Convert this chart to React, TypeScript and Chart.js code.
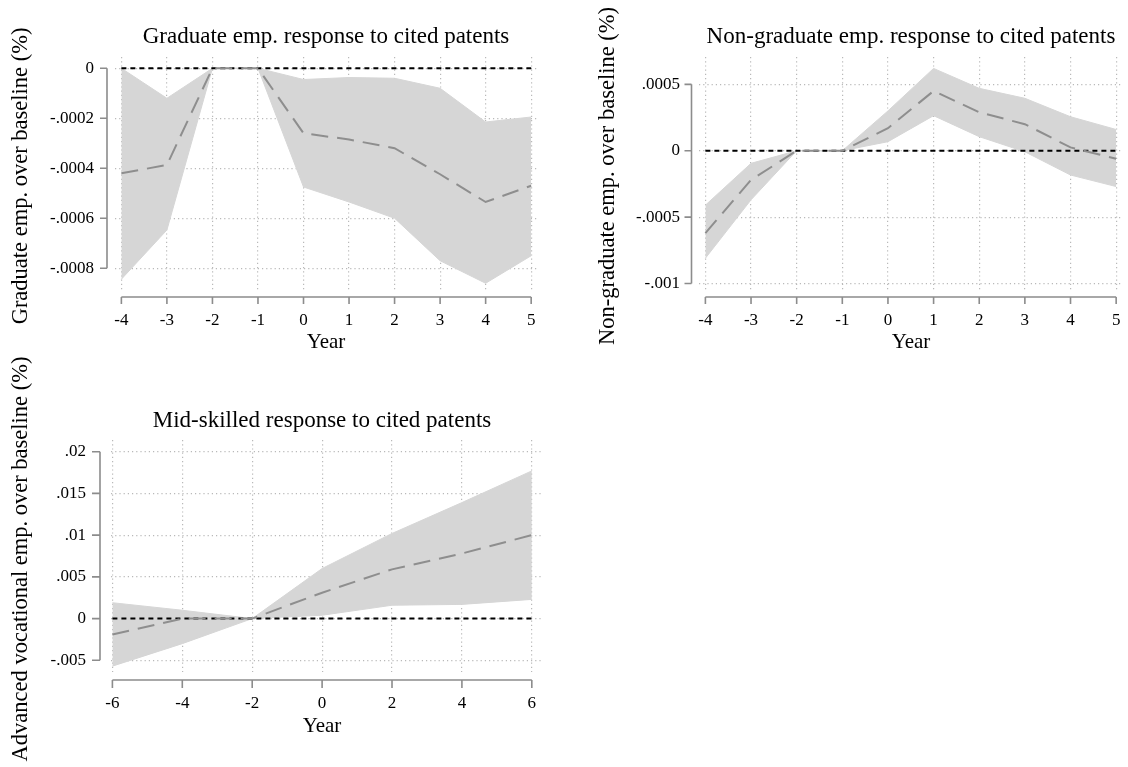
import React, { useEffect, useRef } from "react";
import { Chart, registerables } from "chart.js";

Chart.register(...registerables);

// ---------- Data ----------
const yearsGrad = [-4, -3, -2, -1, 0, 1, 2, 3, 4, 5];
const estGrad = [-0.00042, -0.000387, 0, 0, -0.00026, -0.000285, -0.00032, -0.000424, -0.000535, -0.00047];
const upperGrad = [0, -0.00012, 0, 0, -0.000045, -0.000037, -0.00004, -0.00008, -0.000215, -0.000195];
const lowerGrad = [-0.000844, -0.000647, 0, 0, -0.000475, -0.000535, -0.0006, -0.00077, -0.00086, -0.00075];
const xTicksGrad = [-4, -3, -2, -1, 0, 1, 2, 3, 4, 5];
const yTicksGrad = [0, -0.0002, -0.0004, -0.0006, -0.0008];
const yLabelsGrad = ["0", "-.0002", "-.0004", "-.0006", "-.0008"];

const yearsNon = [-4, -3, -2, -1, 0, 1, 2, 3, 4, 5];
const estNon = [-0.00062, -0.00022, 0, 0, 0.00017, 0.00045, 0.00029, 0.0002, 0.000025, -0.00006];
const upperNon = [-0.00041, -0.000095, 0, 0, 0.0003, 0.00062, 0.00047, 0.000395, 0.000256, 0.00016];
const lowerNon = [-0.00081, -0.00037, 0, 0, 0.000068, 0.000264, 0.000106, -0.000008, -0.000183, -0.00027];
const xTicksNon = [-4, -3, -2, -1, 0, 1, 2, 3, 4, 5];
const yTicksNon = [0.0005, 0, -0.0005, -0.001];
const yLabelsNon = [".0005", "0", "-.0005", "-.001"];

const yearsMid = [-6, -4, -2, 0, 2, 4, 6];
const estMid = [-0.0019, 0, 0, 0.0031, 0.0059, 0.0078, 0.01];
const upperMid = [0.0019, 0.001, 0, 0.006, 0.0102, 0.0139, 0.0177];
const lowerMid = [-0.0057, -0.003, 0, 0.0004, 0.0016, 0.0017, 0.0023];
const xTicksMid = [-6, -4, -2, 0, 2, 4, 6];
const yTicksMid = [0.02, 0.015, 0.01, 0.005, 0, -0.005];
const yLabelsMid = [".02", ".015", ".01", ".005", "0", "-.005"];

const titles = [
  "Graduate emp. response to cited patents",
  "Non-graduate emp. response to cited patents",
  "Mid-skilled response to cited patents",
];
const yTitles = [
  "Graduate emp. over baseline (%)",
  "Non-graduate emp. over baseline (%)",
  "Advanced vocational emp. over baseline (%)",
];
const xTitle = "Year";

// ---------- Styling ----------
const FONT = "'Liberation Serif', 'Times New Roman', serif";
const BAND = "#d6d6d6";
const EST = "#8e8e8e";
const GRID = "#b9b9b9";
const AXIS = "#8c8c8c";

type PanelCfg = {
  left: number; top: number; width: number; height: number;
  area: { left: number; top: number; right: number; bottom: number };
  xMin: number; xMax: number; yMin: number; yMax: number;
  years: number[]; est: number[]; upper: number[]; lower: number[];
  xTicks: number[]; yTicks: number[]; yLabels: string[];
  title: string; yTitle: string;
  titleX: number; titleBase: number; yearX: number; yearBase: number;
  yTitleX: number; yTitleY: number;
  yAxisGap: number; xAxisGap: number; tickLen: number;
  yTickPad: number; xTickPad: number;
};

const OFF = 45; // vertical offset of the third canvas
const panels: PanelCfg[] = [
  {
    left: 0, top: 0, width: 560, height: 370,
    area: { left: 115, top: 57, right: 538, bottom: 290 },
    xMin: -4.14, xMax: 5.15, yMin: -0.000887, yMax: 0.000045,
    years: yearsGrad, est: estGrad, upper: upperGrad, lower: lowerGrad,
    xTicks: xTicksGrad, yTicks: yTicksGrad, yLabels: yLabelsGrad,
    title: titles[0], yTitle: yTitles[0],
    titleX: 326, titleBase: 43, yearX: 326, yearBase: 348,
    yTitleX: 21, yTitleY: 176,
    yAxisGap: 8, xAxisGap: 7, tickLen: 7, yTickPad: 21, xTickPad: 20,
  },
  {
    left: 590, top: 0, width: 538, height: 370,
    area: { left: 109, top: 57, right: 533, bottom: 290 },
    xMin: -4.14, xMax: 5.15, yMin: -0.001049, yMax: 0.000706,
    years: yearsNon, est: estNon, upper: upperNon, lower: lowerNon,
    xTicks: xTicksNon, yTicks: yTicksNon, yLabels: yLabelsNon,
    title: titles[1], yTitle: yTitles[1],
    titleX: 321, titleBase: 43, yearX: 321, yearBase: 348,
    yTitleX: 18, yTitleY: 176,
    yAxisGap: 7.5, xAxisGap: 7, tickLen: 7, yTickPad: 19, xTickPad: 20,
  },
  {
    left: 0, top: 385 - OFF, width: 560, height: 382 + OFF,
    area: { left: 111, top: 55 + OFF, right: 543, bottom: 287 + OFF },
    xMin: -6.04, xMax: 6.32, yMin: -0.0064, yMax: 0.0214,
    years: yearsMid, est: estMid, upper: upperMid, lower: lowerMid,
    xTicks: xTicksMid, yTicks: yTicksMid, yLabels: yLabelsMid,
    title: titles[2], yTitle: yTitles[2],
    titleX: 322, titleBase: 42 + OFF, yearX: 322, yearBase: 347 + OFF,
    yTitleX: 21, yTitleY: 219,
    yAxisGap: 11, xAxisGap: 8, tickLen: 8, yTickPad: 25, xTickPad: 21,
  },
];

function makeDecor(cfg: PanelCfg) {
  return {
    id: "stataDecor",
    afterDraw(chart: any) {
      const ctx = chart.ctx as CanvasRenderingContext2D;
      const ca = chart.chartArea;
      const xs = chart.scales.x;
      const ys = chart.scales.y;
      ctx.save();
      ctx.strokeStyle = AXIS;
      ctx.lineWidth = 1.6;
      ctx.setLineDash([]);
      // y axis line + ticks
      const ax = ca.left - cfg.yAxisGap;
      const yp = cfg.yTicks.map((v) => ys.getPixelForValue(v));
      ctx.beginPath();
      ctx.moveTo(ax, Math.min(...yp));
      ctx.lineTo(ax, Math.max(...yp));
      yp.forEach((p) => {
        ctx.moveTo(ax, p);
        ctx.lineTo(ax - cfg.tickLen, p);
      });
      ctx.stroke();
      // x axis line + ticks
      const ay = ca.bottom + cfg.xAxisGap;
      const xp = cfg.xTicks.map((v) => xs.getPixelForValue(v));
      ctx.beginPath();
      ctx.moveTo(Math.min(...xp), ay);
      ctx.lineTo(Math.max(...xp), ay);
      xp.forEach((p) => {
        ctx.moveTo(p, ay);
        ctx.lineTo(p, ay + cfg.tickLen);
      });
      ctx.stroke();
      // texts
      ctx.fillStyle = "#000";
      ctx.textAlign = "center";
      ctx.textBaseline = "alphabetic";
      ctx.font = `23px ${FONT}`;
      ctx.fillText(cfg.title, cfg.titleX, cfg.titleBase);
      ctx.font = `21px ${FONT}`;
      ctx.fillText(xTitle, cfg.yearX, cfg.yearBase);
      ctx.translate(cfg.yTitleX, cfg.yTitleY);
      ctx.rotate(-Math.PI / 2);
      ctx.textBaseline = "middle";
      ctx.font = `22.5px ${FONT}`;
      ctx.fillText(cfg.yTitle, 0, 0);
      ctx.restore();
    },
  };
}

function Panel({ cfg }: { cfg: PanelCfg }) {
  const ref = useRef<HTMLCanvasElement | null>(null);
  useEffect(() => {
    if (!ref.current) return;
    const pts = (arr: number[]) => cfg.years.map((x, i) => ({ x, y: arr[i] }));
    const zero = [
      { x: cfg.years[0], y: 0 },
      { x: cfg.years[cfg.years.length - 1], y: 0 },
    ];
    const chart = new Chart(ref.current, {
      type: "line",
      data: {
        datasets: [
          {
            data: pts(cfg.lower), borderColor: BAND, backgroundColor: BAND,
            borderWidth: 1, pointRadius: 0, fill: false, order: 4, tension: 0,
          },
          {
            data: pts(cfg.upper), borderColor: BAND, backgroundColor: BAND,
            borderWidth: 1, pointRadius: 0, fill: "-1", order: 3, tension: 0,
          },
          {
            data: zero, borderColor: "#000", borderWidth: 2, borderDash: [5, 4],
            pointRadius: 0, fill: false, order: 2,
          },
          {
            data: pts(cfg.est), borderColor: EST, borderWidth: 2, borderDash: [17, 9],
            pointRadius: 0, fill: false, order: 1, tension: 0,
          },
        ],
      },
      options: {
        animation: false,
        responsive: false,
        devicePixelRatio: 1,
        layout: {
          padding: {
            left: 0,
            top: cfg.area.top,
            right: cfg.width - cfg.area.right,
            bottom: 0,
          },
        },
        plugins: {
          legend: { display: false },
          tooltip: { enabled: false },
          title: { display: false },
        },
        scales: {
          x: {
            type: "linear",
            min: cfg.xMin,
            max: cfg.xMax,
            afterBuildTicks: (axis: any) => {
              axis.ticks = cfg.xTicks.map((v) => ({ value: v }));
            },
            afterFit: (axis: any) => {
              axis.height = cfg.height - cfg.area.bottom;
              axis.paddingLeft = 0;
              axis.paddingRight = 0;
            },
            grid: { color: GRID, lineWidth: 1.2, drawTicks: false },
            border: { display: false, dash: [1.2, 3] },
            ticks: {
              autoSkip: false,
              maxRotation: 0,
              padding: cfg.xTickPad,
              color: "#000",
              font: { family: FONT, size: 17 },
              callback: (v: any) => String(v),
            },
          },
          y: {
            type: "linear",
            min: cfg.yMin,
            max: cfg.yMax,
            afterBuildTicks: (axis: any) => {
              axis.ticks = cfg.yTicks.map((v) => ({ value: v }));
            },
            afterFit: (axis: any) => {
              axis.width = cfg.area.left;
              axis.paddingTop = 0;
              axis.paddingBottom = 0;
            },
            grid: { color: GRID, lineWidth: 1.2, drawTicks: false },
            border: { display: false, dash: [1.2, 3] },
            ticks: {
              autoSkip: false,
              padding: cfg.yTickPad,
              color: "#000",
              font: { family: FONT, size: 17 },
              callback: (_v: any, i: number) => cfg.yLabels[i],
            },
          },
        },
      },
      plugins: [makeDecor(cfg)],
    } as any);
    return () => chart.destroy();
  }, [cfg]);
  return (
    <canvas
      ref={ref}
      width={cfg.width}
      height={cfg.height}
      style={{
        position: "absolute",
        left: cfg.left,
        top: cfg.top,
        width: cfg.width,
        height: cfg.height,
      }}
    />
  );
}

export default function App() {
  return (
    <div
      style={{
        position: "absolute",
        left: 0,
        top: 0,
        width: 1128,
        height: 767,
        background: "#fff",
        overflow: "hidden",
      }}
    >
      {panels.map((p, i) => (
        <Panel key={i} cfg={p} />
      ))}
    </div>
  );
}
